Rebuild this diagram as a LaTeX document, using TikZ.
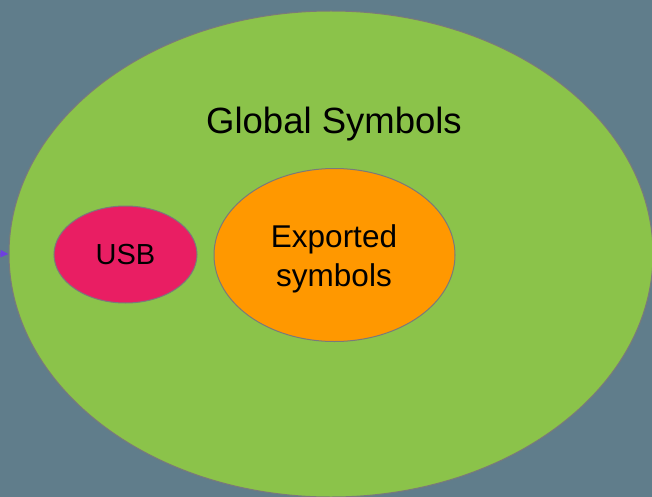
\documentclass[tikz,border=0pt]{standalone}
\usepackage{fontspec}
\setmainfont{Liberation Sans}
\usetikzlibrary{shapes.geometric,arrows.meta}
\definecolor{bg}{HTML}{607D8B}
\definecolor{green}{HTML}{8BC34A}
\definecolor{pink}{HTML}{E91E63}
\definecolor{orng}{HTML}{FF9800}
\definecolor{edge}{HTML}{7A7A7A}
\definecolor{purp}{HTML}{6E3FE0}
\tikzset{
  blob/.style={ellipse, draw=edge, line width=1pt, inner sep=0pt},
}
\begin{document}
\begin{tikzpicture}[x=1pt,y=-1pt]
\clip (0,0) rectangle (652,497);
\fill[bg] (0,0) rectangle (652,497);
\node[blob, fill=green, minimum width=644pt, minimum height=486pt] (global) at (331,254) {};
\node[anchor=base, font=\fontsize{36.5}{40}\selectfont, inner sep=0pt] (gl) at (334,134) {Global Symbols};
\node[blob, fill=pink, minimum width=143pt, minimum height=97pt, font=\fontsize{29}{32}\selectfont] (usb) at (125.5,254.5) {USB};
\node[blob, fill=orng, minimum width=241pt, minimum height=173pt] (exp) at (334.5,255) {};
\node[align=center, inner sep=0pt, font=\fontsize{31.5}{38.7}\selectfont] (expt) at (334,259) {Exported\\symbols};
\coordinate (in) at (-14,253);
\draw[purp, line width=1.5pt, -{Triangle[length=8pt,width=7pt]}] (in) -- (global.west);
\end{tikzpicture}
\end{document}
